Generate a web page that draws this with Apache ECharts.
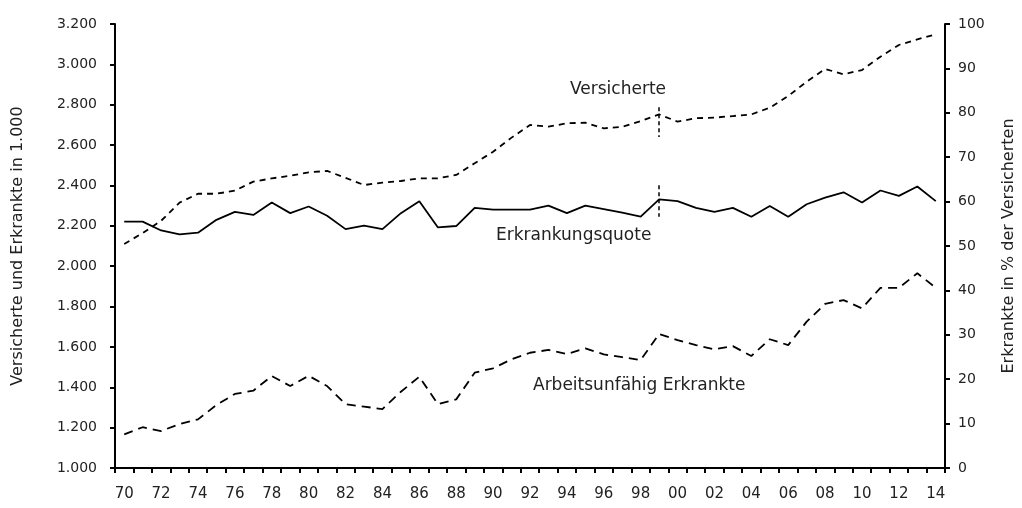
<!DOCTYPE html>
<html>
<head>
<meta charset="utf-8">
<script src="https://cdn.jsdelivr.net/npm/echarts@6/dist/echarts.min.js"></script>
<style>
html, body { margin: 0; padding: 0; background: #fff; }
#chart { width: 1022px; height: 508px; }
</style>
</head>
<body>
<div id="chart"></div>
<script>
// Jahre 1970 - 2014
var years = ['70','71','72','73','74','75','76','77','78','79',
             '80','81','82','83','84','85','86','87','88','89',
             '90','91','92','93','94','95','96','97','98','99',
             '00','01','02','03','04','05','06','07','08','09',
             '10','11','12','13','14'];
// Versicherte in 1.000 (linke Achse)
var versicherte = [2110, 2164, 2225, 2315, 2359, 2359, 2374, 2419, 2435, 2448,
                   2465, 2472, 2438, 2402, 2414, 2422, 2435, 2435, 2452, 2510,
                   2567, 2637, 2700, 2691, 2708, 2711, 2683, 2691, 2719, 2752,
                   2716, 2733, 2736, 2744, 2752, 2785, 2843, 2914, 2977, 2951,
                   2972, 3038, 3096, 3124, 3149];
// Arbeitsunfähig Erkrankte in 1.000 (linke Achse)
var erkrankte = [1167, 1202, 1183, 1218, 1241, 1312, 1367, 1383, 1456, 1406,
                 1457, 1406, 1316, 1304, 1292, 1378, 1452, 1317, 1340, 1472,
                 1494, 1539, 1571, 1585, 1565, 1593, 1563, 1549, 1535, 1664,
                 1634, 1609, 1588, 1604, 1555, 1638, 1609, 1725, 1813, 1832,
                 1791, 1893, 1893, 1965, 1893];
// Erkrankungsquote in % (rechte Achse)
var quote = [55.5, 55.5, 53.5, 52.6, 53.0, 55.9, 57.7, 57.0, 59.8, 57.4,
             58.9, 56.8, 53.8, 54.6, 53.8, 57.4, 60.1, 54.2, 54.5, 58.6,
             58.2, 58.2, 58.2, 59.1, 57.4, 59.1, 58.3, 57.5, 56.6, 60.5,
             60.1, 58.6, 57.7, 58.6, 56.6, 59.0, 56.6, 59.4, 60.9, 62.1,
             59.8, 62.5, 61.3, 63.4, 60.1];
// Bruchmarkierung 1999
var bruchJahr = '99';
var bruchVersicherte = [2787, 2640];
var bruchQuote = [63.7, 56.6];

var FONT = '"DejaVu Sans", sans-serif';
var TXT = '#222';

var chart = echarts.init(document.getElementById('chart'));

function bruch(a, b) {
    return {
        silent: true,
        symbol: ['none', 'none'],
        label: { show: false },
        lineStyle: { color: '#000', type: [4, 3], width: 1.5 },
        data: [[{ coord: [bruchJahr, a] }, { coord: [bruchJahr, b] }]]
    };
}

var option = {
    animation: false,
    backgroundColor: '#fff',
    textStyle: { fontFamily: FONT },
    grid: { left: 115, right: 77, top: 24, bottom: 40, outerBoundsMode: 'none', containLabel: false },
    xAxis: {
        type: 'category',
        data: years,
        boundaryGap: true,
        axisLine: { lineStyle: { color: '#000', width: 2 } },
        axisTick: { show: true, interval: 0, length: 5, lineStyle: { color: '#000', width: 2 } },
        axisLabel: { interval: 1, margin: 19, color: TXT, fontSize: 15, fontFamily: FONT },
        splitLine: { show: false }
    },
    yAxis: [{
        type: 'value',
        min: 1000, max: 3200, interval: 200,
        name: 'Versicherte und Erkrankte in 1.000',
        nameLocation: 'middle', nameRotate: 90, nameGap: 89,
        nameTextStyle: { color: TXT, fontSize: 16, fontFamily: FONT },
        axisLine: { show: true, lineStyle: { color: '#000', width: 2 } },
        axisTick: { show: true, length: 5, lineStyle: { color: '#000', width: 2 } },
        axisLabel: {
            margin: 18, color: TXT, fontSize: 14, fontFamily: FONT,
            formatter: function (v) { return (v / 1000).toFixed(3); }
        },
        splitLine: { show: false }
    }, {
        type: 'value',
        min: 0, max: 100, interval: 10,
        position: 'right',
        name: 'Erkrankte in % der Versicherten',
        nameLocation: 'middle', nameRotate: 90, nameGap: 56,
        nameTextStyle: { color: TXT, fontSize: 16, fontFamily: FONT },
        axisLine: { show: true, lineStyle: { color: '#000', width: 2 } },
        axisTick: { show: true, length: 5, lineStyle: { color: '#000', width: 2 } },
        axisLabel: { margin: 13, color: TXT, fontSize: 14, fontFamily: FONT },
        splitLine: { show: false }
    }],
    graphic: [
        { type: 'text', left: 570, top: 81, style: { text: 'Versicherte', fill: TXT, font: '17px ' + FONT } },
        { type: 'text', left: 496, top: 227, style: { text: 'Erkrankungsquote', fill: TXT, font: '17px ' + FONT } },
        { type: 'text', left: 533, top: 377, style: { text: 'Arbeitsunfähig Erkrankte', fill: TXT, font: '17px ' + FONT } }
    ],
    series: [{
        name: 'Versicherte',
        type: 'line',
        yAxisIndex: 0,
        data: versicherte,
        symbol: 'none',
        lineStyle: { color: '#000', width: 1.8, type: [6, 5] },
        markLine: bruch(bruchVersicherte[0], bruchVersicherte[1])
    }, {
        name: 'Erkrankungsquote',
        type: 'line',
        yAxisIndex: 1,
        data: quote,
        symbol: 'none',
        lineStyle: { color: '#000', width: 1.8 },
        markLine: bruch(bruchQuote[0], bruchQuote[1])
    }, {
        name: 'Arbeitsunfähig Erkrankte',
        type: 'line',
        yAxisIndex: 0,
        data: erkrankte,
        symbol: 'none',
        lineStyle: { color: '#000', width: 1.8, type: [9, 6] }
    }]
};

chart.setOption(option);
window.addEventListener('resize', function () {
    chart.resize();
});
</script>
</body>
</html>
